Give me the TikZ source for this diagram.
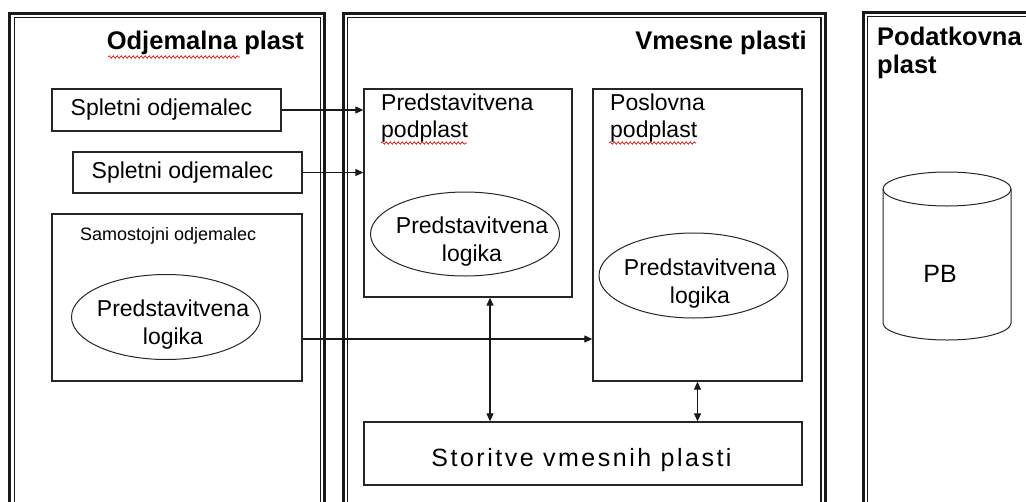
\documentclass[tikz,border=0pt]{standalone}
\usepackage{fontspec}
\setmainfont{Liberation Sans}
\newfontfamily\spacedfont[LetterSpace=10]{Liberation Sans}
\usetikzlibrary{shapes.geometric,arrows.meta,decorations.pathmorphing}

\begin{document}
\begin{tikzpicture}[x=1pt,y=-1pt,
  frameout/.style={draw=black!90, line width=3pt},
  framein/.style={draw=black!90, line width=1.2pt},
  box/.style={draw=black!85, line width=1.3pt, rectangle, inner sep=0pt},
  ell/.style={draw=black!85, line width=1pt, ellipse, inner sep=0pt},
  txt/.style={inner sep=0pt, font=\fontsize{23}{28}\selectfont},
  title/.style={inner sep=0pt, font=\bfseries\fontsize{25.5}{28}\selectfont},
  arr/.style={draw=black!90, line width=1.1pt, -{Triangle[length=8pt,width=7pt]}},
  darr/.style={draw=black!90, line width=1.1pt, {Triangle[length=8pt,width=7pt]}-{Triangle[length=8pt,width=7pt]}},
  squig/.style={draw=red!85!black, line width=0.6pt, decorate,
    decoration={snake, segment length=4pt, amplitude=1.3pt}}
]
\useasboundingbox (0,0) rectangle (1026,501);
\clip (0,0) rectangle (1026,501);

% --- layer frames (double border) ---
\draw[frameout] (9.5,13.5) rectangle (324.3,520);
\draw[framein]  (14.2,17.2) rectangle (320.6,520);
\draw[frameout] (343.5,13.5) rectangle (825,520);
\draw[framein]  (347.2,17.2) rectangle (821,520);
\draw[frameout] (863.5,12.5) rectangle (1040,520);
\draw[framein]  (867.3,16.2) rectangle (1040,520);

% --- layer titles ---
\node[title, anchor=base east] (tclient) at (304,49) {Odjemalna plast};
\node[title, anchor=base east] (tmid) at (807,49) {Vmesne plasti};
\node[title, anchor=north west, align=left] (tdata) at (877,26.5) {Podatkovna\\plast};
\draw[squig] (108,57) -- (240,57);

% --- client layer ---
\node[box, txt, minimum width=229pt, minimum height=42pt] (web1) at (166.5,110) {Spletni odjemalec\hspace*{10pt}};
\node[box, txt, minimum width=229pt, minimum height=41pt] (web2) at (187.5,172.5) {Spletni odjemalec\hspace*{10pt}};
\node[box, minimum width=250pt, minimum height=167pt] (solo) at (177,297.5) {};
\node[inner sep=0pt, anchor=base west, font=\fontsize{18}{22}\selectfont] (solot) at (80,240) {Samostojni odjemalec};
\node[ell, minimum width=189pt, minimum height=85pt] (e1) at (166,317) {};
\node[txt, anchor=north, align=center] (e1t) at (173,300) {Predstavitvena\\logika};

% --- middle layers ---
\node[box, minimum width=208pt, minimum height=208pt] (pres) at (468,193) {};
\node[txt, anchor=north west, align=left, font=\fontsize{23}{27}\selectfont] (prest) at (381,94) {Predstavitvena\\podplast};
\draw[squig] (381,143) -- (467,143);
\node[ell, minimum width=189pt, minimum height=84pt] (e2) at (465,234) {};
\node[txt, anchor=north, align=center] (e2t) at (472,217) {Predstavitvena\\logika};

\node[box, minimum width=209pt, minimum height=292pt] (bus) at (697.5,235) {};
\node[txt, anchor=north west, align=left, font=\fontsize{23}{27}\selectfont] (bust) at (610,94) {Poslovna\\podplast};
\draw[squig] (609,143) -- (696,143);
\node[ell, minimum width=189pt, minimum height=85pt] (e3) at (693.5,275.5) {};
\node[txt, anchor=north, align=center] (e3t) at (700,259) {Predstavitvena\\logika};

\node[box, minimum width=438pt, minimum height=63pt] (svc) at (583,453.5) {};
\node[inner sep=0pt, anchor=base, font=\spacedfont\fontsize{25}{30}\selectfont] (svct) at (581.5,466) {Storitve vmesnih plasti};

% --- data layer: database cylinder ---
\draw[draw=black!85, line width=1pt, fill=white]
  (883,189) -- (883,323) arc[start angle=180, end angle=0, x radius=64, y radius=17]
  -- (1011,189);
\node[ell, minimum width=128pt, minimum height=34pt] (db) at (947,189) {};
\node[inner sep=0pt, anchor=base, font=\fontsize{25}{28}\selectfont] (dbt) at (940,282) {PB};

% --- connectors ---
\draw[arr] (web1.east) -- (web1.east -| pres.west);
\draw[arr] (web2.east) -- (web2.east -| pres.west);
\draw[arr] ([yshift=-41.5pt]solo.east) coordinate (s1) -- (s1 -| bus.west);
\draw[darr] ([xshift=22pt]pres.south) coordinate (v1) -- (v1 |- svc.north);
\draw[darr] (bus.south) -- (bus.south |- svc.north);
\end{tikzpicture}
\end{document}
